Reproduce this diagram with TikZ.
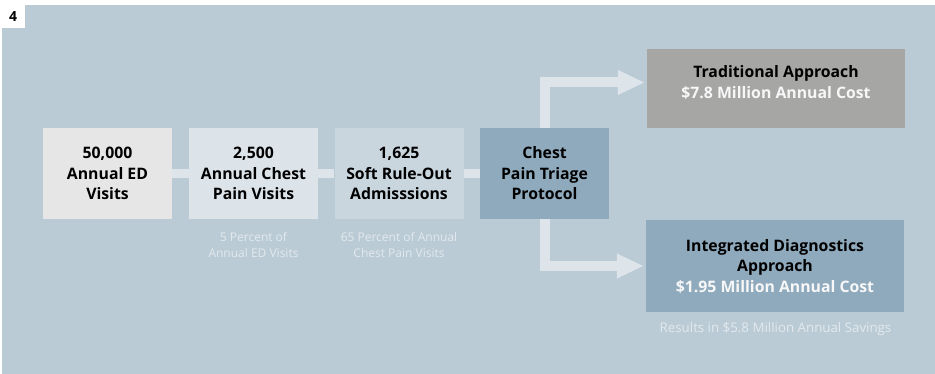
\documentclass[tikz,border=0pt]{standalone}
\usepackage{fontspec}
\setmainfont{Open Sans}
\usepackage{xcolor}
\usetikzlibrary{arrows.meta, calc}
\definecolor{BACK}{HTML}{BBCBD5}
\definecolor{FIRST}{HTML}{E6E6E6}
\definecolor{SECOND}{HTML}{DCE4EA}
\definecolor{THIRD}{HTML}{C9D6DE}
\definecolor{STEEL}{HTML}{8FAABD}
\definecolor{GREY}{HTML}{A6A6A5}
\definecolor{LINK}{HTML}{DDE5EB}
\definecolor{NOTE}{HTML}{E2E9EE}
\definecolor{WHITE}{HTML}{F7F7F7}

\begin{document}
\begin{tikzpicture}[x=1pt, y=-1pt,
    stage/.style={minimum width=129pt, minimum height=91pt, inner sep=0pt, align=center,
        font=\bfseries\fontsize{15.8}{20.5}\selectfont},
    result/.style={minimum width=258pt, inner sep=0pt},
    bar/.style={LINK, line width=9pt},
    branch/.style={LINK, line width=10pt, line join=miter, shorten >=2pt,
        -{Triangle[length=27pt, width=23pt]}},
    note/.style={NOTE, align=center, font=\fontsize{12}{15.5}\selectfont}]
    \useasboundingbox (0,0) rectangle (935,374);
    % Background
    \fill[BACK] (2,5) rectangle (935,374);
    \fill[white] (0,0) rectangle (25,28);
    \node[font=\bfseries\fontsize{14}{16}\selectfont] (figno) at (13,17) {4};
    % Stages
    \node[stage, fill=FIRST] (edvisits) at (107.5,173.5) {50,000\\Annual ED\\Visits};
    \node[stage, fill=SECOND] (chestpain) at (253.5,173.5) {2,500\\Annual Chest\\Pain Visits};
    \node[stage, fill=THIRD] (ruleout) at (399,173.5) {1,625\\Soft Rule-Out\\Admisssions};
    \node[stage, fill=STEEL] (triage) at (544.5,173.5) {Chest\\Pain Triage\\Protocol};
    \node[note] (chestnote) at (253.5,245) {5 Percent of\\Annual ED Visits};
    \node[note] (ruleoutnote) at (399,245) {65 Percent of Annual\\Chest Pain Visits};
    % Bars
    \draw[bar] (edvisits.east) -- (chestpain.west);
    \draw[bar] (chestpain.east) -- (ruleout.west);
    \draw[bar] (ruleout.east) -- (triage.west);
    % Results
    \node[result, fill=GREY, minimum height=79pt] (trad) at (776,88.5) {};
    \node[stage, minimum width=0pt, minimum height=0pt] (tradtext) at (776,82.5)
        {Traditional Approach\\\textcolor{WHITE}{\$7.8 Million Annual Cost}};
    \node[stage, result, fill=STEEL, minimum height=92pt] (intg) at (775,266)
        {Integrated Diagnostics\\Approach\\\textcolor{WHITE}{\$1.95 Million Annual Cost}};
    \node[note, font=\fontsize{13.3}{16}\selectfont] (savings) at (775.5,329)
        {Results in \$5.8 Million Annual Savings};
    % Arrows
    \draw[branch] (triage.north) |- (tradtext.west -| trad.west);
    \draw[branch] (triage.south) |- (intg.west);
\end{tikzpicture}
\end{document}
